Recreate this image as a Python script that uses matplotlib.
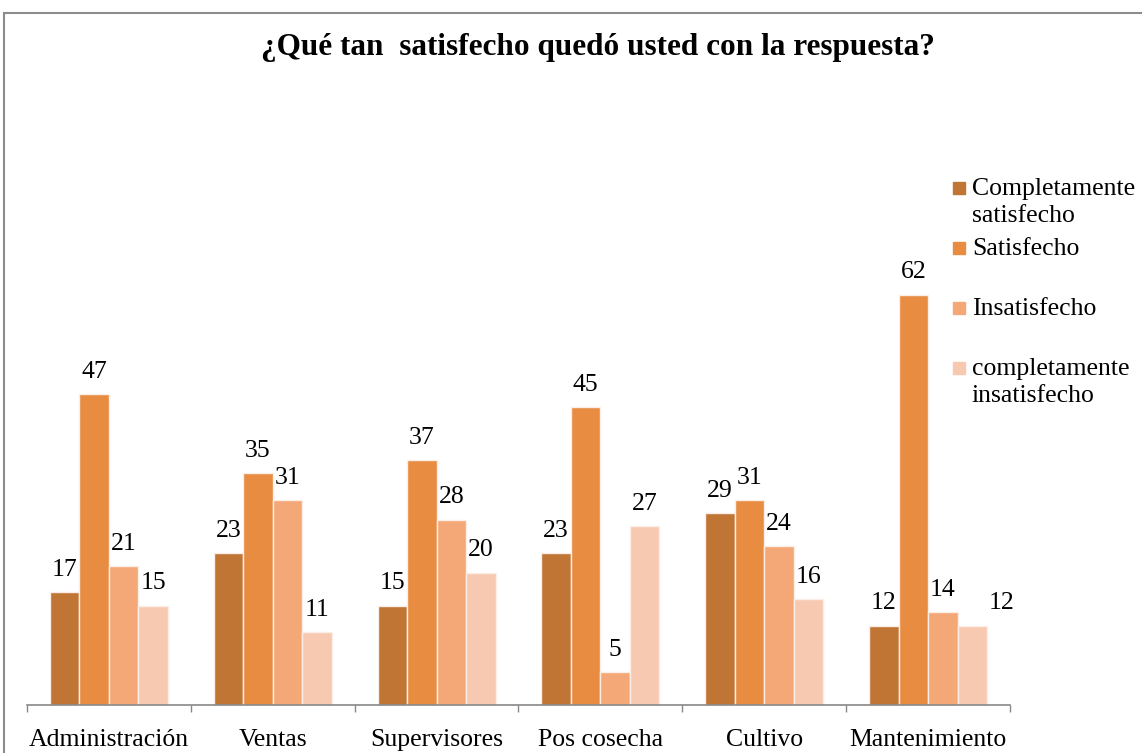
import matplotlib.pyplot as plt
import numpy as np
from matplotlib.patches import Rectangle

plt.rcParams['font.family'] = ['Liberation Serif', 'DejaVu Serif']

categories = ['Administración', 'Ventas', 'Supervisores', 'Pos cosecha', 'Cultivo', 'Mantenimiento']
series_names = ['Completamente\nsatisfecho', 'Satisfecho', 'Insatisfecho', 'completamente\ninsatisfecho']
comp_satisfecho = [17, 23, 15, 23, 29, 12]
satisfecho = [47, 35, 37, 45, 31, 62]
insatisfecho = [21, 31, 28, 5, 24, 14]
comp_insatisfecho = [15, 11, 20, 27, 16, 12]
series = [comp_satisfecho, satisfecho, insatisfecho, comp_insatisfecho]
colors = ['#C17535', '#E88C42', '#F5A877', '#F8C9B1']

W, H = 1142, 753
fig = plt.figure(figsize=(W / 100, H / 100), dpi=100)

# outer chart frame
fig.patches.append(Rectangle((4 / W, -0.05), 1.1, 1 - 13 / H + 0.05, transform=fig.transFigure,
                             fill=False, edgecolor='#8c8c8c', linewidth=1.5))

ymax = 70
base_y = 705
scale = 6.62
top_y = base_y - ymax * scale
ax = fig.add_axes([27 / W, (H - base_y) / H, (1010 - 27) / W, (base_y - top_y) / H])
ax.set_xlim(-0.5, len(categories) - 0.5)
ax.set_ylim(0, ymax)

x = np.arange(len(categories))
w = 0.18
for i, vals in enumerate(series):
    pos = x + (i - 1.5) * w
    bars = ax.bar(pos, vals, w, color=colors[i], edgecolor='#fbeee6', linewidth=1)
    for j, (p, v) in enumerate(zip(pos, vals)):
        dx = 21 if (i == 3 and j == len(categories) - 1) else 0
        ax.annotate(str(v), (p, v), xytext=(dx, 16), textcoords='offset points',
                    ha='center', va='center', fontsize=18.5)

for s in ['top', 'right', 'left']:
    ax.spines[s].set_visible(False)
ax.spines['bottom'].set_color('#888888')
ax.spines['bottom'].set_linewidth(1.2)
ax.set_yticks([])
ax.set_xticks(np.arange(-0.5, len(categories) + 0.5, 1))
ax.set_xticklabels([])
ax.set_xticks(x, minor=True)
ax.set_xticklabels(categories, minor=True, fontsize=18.5)
ax.tick_params(axis='x', which='major', length=5, color='#888888', width=1)
ax.tick_params(axis='x', which='minor', length=0, pad=17)

fig.text(598 / W, 1 - 47 / H, '¿Qué tan  satisfecho quedó usted con la respuesta?',
         ha='center', va='center', fontsize=22.5, fontweight='bold')

# legend
leg_y = [188, 248, 308, 368]
for name, c, yy in zip(series_names, colors, leg_y):
    fig.patches.append(Rectangle((953 / W, 1 - (yy + 6) / H), 12 / W, 12 / H,
                                 transform=fig.transFigure, color=c))
    fig.text(972 / W, 1 - (yy - 10) / H, name, ha='left', va='top', fontsize=18.5,
             linespacing=1.3)

fig.savefig('out.png', dpi=100)
